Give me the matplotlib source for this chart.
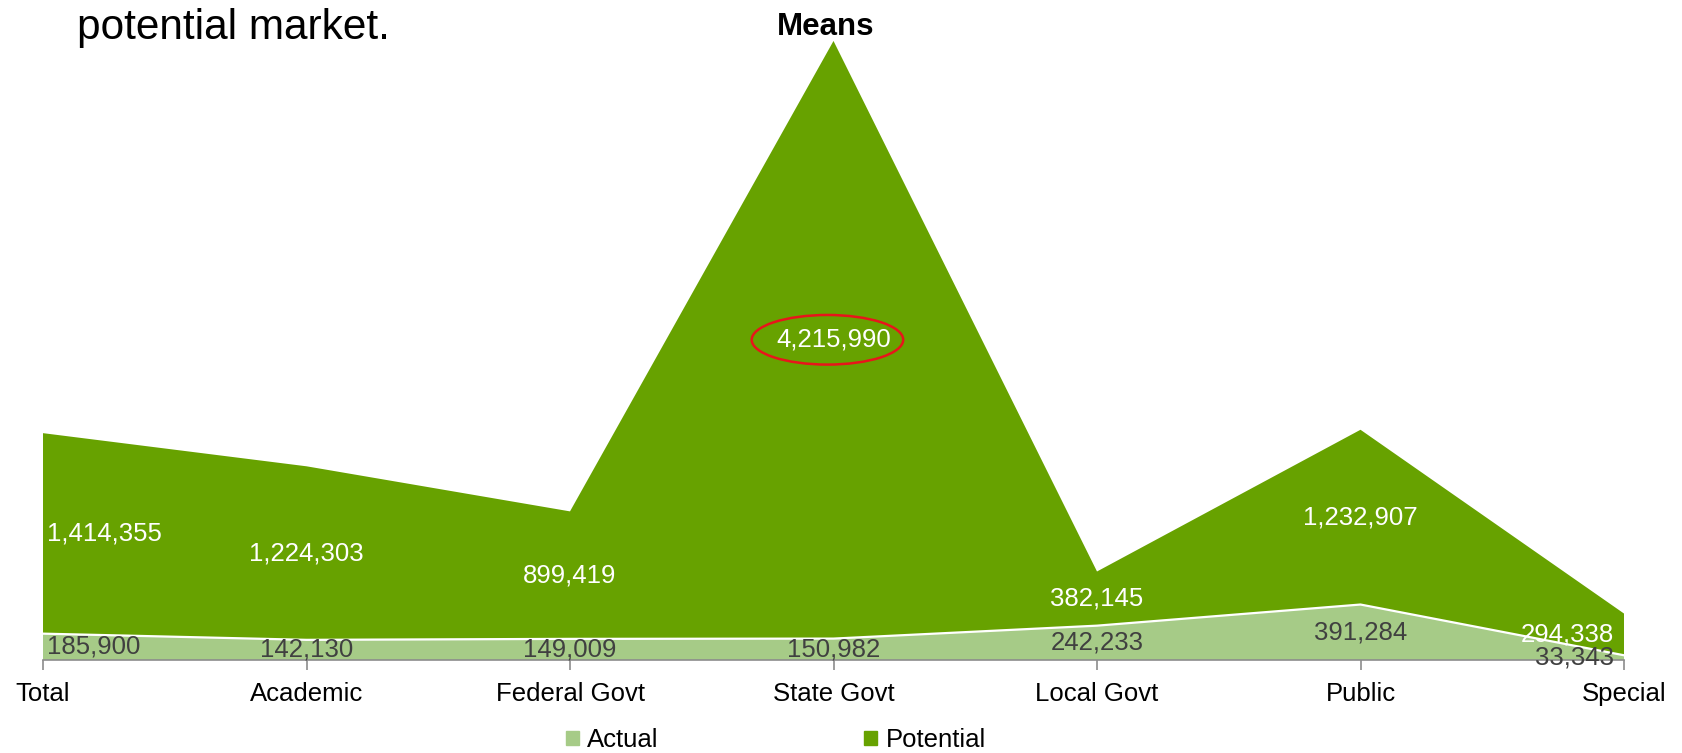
import matplotlib
matplotlib.use("Agg")
import matplotlib.pyplot as plt
from matplotlib.patches import Ellipse, Patch

plt.rcParams['font.family'] = ['Liberation Sans', 'DejaVu Sans']

categories = ['Total', 'Academic', 'Federal Govt', 'State Govt', 'Local Govt', 'Public', 'Special']
actual = [185900, 142130, 149009, 150982, 242233, 391284, 33343]
potential = [1414355, 1224303, 899419, 4215990, 382145, 1232907, 294338]

actual_color = '#A6CB87'
potential_color = '#67A200'

fig = plt.figure(figsize=(16.82, 7.53), dpi=100)
ax = fig.add_axes([0.02557, 0.12351, 0.93995, 0.84714])

x = list(range(len(categories)))
ax.stackplot(x, actual, potential, colors=[actual_color, potential_color], linewidth=0)
ax.plot(x, actual, color='white', lw=1.6)

ax.set_xlim(0, len(categories) - 1)
ax.set_ylim(0, 4.5e6)

for s in ['top', 'right', 'left']:
    ax.spines[s].set_visible(False)
ax.spines['bottom'].set_color('#8c8c8c')
ax.spines['bottom'].set_linewidth(1.2)
ax.set_yticks([])
ax.set_xticks(x)
ax.set_xticklabels(categories, fontsize=18.5)
ax.tick_params(axis='x', length=7, width=1.2, color='#8c8c8c', pad=9)

# value labels in the middle of each band
for i, (a, p) in enumerate(zip(actual, potential)):
    if i == 0:
        ha, dx = 'left', 4
    elif i == len(categories) - 1:
        ha, dx = 'right', -10
    else:
        ha, dx = 'center', 0
    ax.annotate(f'{a:,}', (i, a / 2), xytext=(dx, 0), textcoords='offset pixels',
                ha=ha, va='center', fontsize=18.5, color='#404040')
    ax.annotate(f'{p:,}', (i, a + p / 2), xytext=(dx, 0), textcoords='offset pixels',
                ha=ha, va='center', fontsize=18.5, color='white')

# highlight the State Govt figure
state = categories.index('State Govt')
ax.add_patch(Ellipse((state - 0.023, actual[state] + potential[state] / 2),
                     width=0.575, height=3.5e5, fill=False, ec='#e8151b', lw=1.8))

fig.text(0.491, 0.9535, 'Means', ha='center', va='baseline', fontsize=22.5, fontweight='bold')
fig.text(0.0458, 0.948, 'potential market.', ha='left', va='baseline', fontsize=30.5)

handles = [Patch(color=actual_color, label='Actual'), Patch(color=potential_color, label='Potential')]
fig.legend(handles=handles, loc='center left', bbox_to_anchor=(566 / 1682, 13 / 753),
           ncol=2, frameon=False, fontsize=18.5, handlelength=0.5, handleheight=0.5,
           handletextpad=0.33, columnspacing=8.0, borderpad=0, borderaxespad=0)

fig.savefig('out.png', dpi=100)
